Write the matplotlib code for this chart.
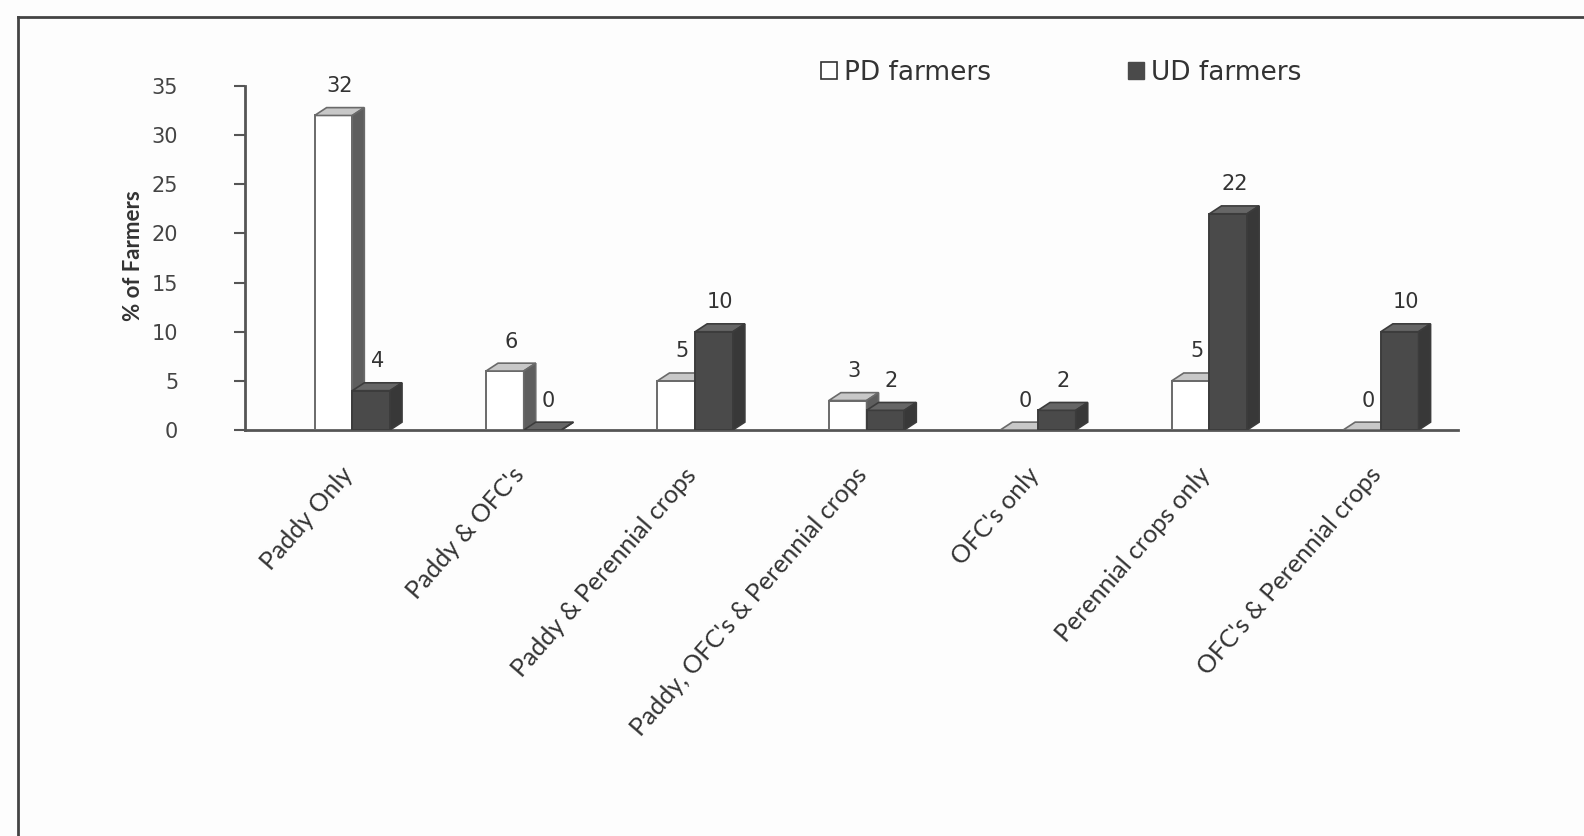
import matplotlib
matplotlib.use("Agg")
import matplotlib.pyplot as plt
from matplotlib.patches import Polygon, Patch
from matplotlib.lines import Line2D
from matplotlib.transforms import ScaledTranslation

categories = ["Paddy Only", "Paddy & OFC's", "Paddy & Perennial crops",
              "Paddy, OFC's & Perennial crops", "OFC's only",
              "Perennial crops only", "OFC's & Perennial crops"]
pd_farmers = [32, 6, 5, 3, 0, 5, 0]
ud_farmers = [4, 0, 10, 2, 2, 22, 10]
series_names = ["PD farmers", "UD farmers"]
yticks = [0, 5, 10, 15, 20, 25, 30, 35]

W, H = 1584, 836
fig = plt.figure(figsize=(W / 100, H / 100), dpi=100)
fig.patch.set_facecolor("#fdfdfd")

ax = fig.add_axes([245 / W, 1 - 430 / H, (1458 - 245) / W, (430 - 86) / H])
ax.set_facecolor("none")

w = 0.22
dx, dy = 0.07, 0.8

def bar3d(x0, h, front, top, side, edge):
    ax.bar(x0, h, width=w, align="edge", color=front, edgecolor=edge,
           linewidth=1.4, zorder=3)
    ax.add_patch(Polygon([(x0, h), (x0 + dx, h + dy), (x0 + w + dx, h + dy), (x0 + w, h)],
                         closed=True, facecolor=top, edgecolor=edge, linewidth=1.2, zorder=3))
    ax.add_patch(Polygon([(x0 + w, 0), (x0 + w, h), (x0 + w + dx, h + dy), (x0 + w + dx, dy)],
                         closed=True, facecolor=side, edgecolor=edge, linewidth=1.2, zorder=3))

for i, (p, u) in enumerate(zip(pd_farmers, ud_farmers)):
    bar3d(i - w, p, "#ffffff", "#c8c8c8", "#5e5e5e", "#6a6a6a")
    bar3d(i, u, "#4a4a4a", "#666666", "#383838", "#3c3c3c")

def label_y(v):
    return v + 3.0

for i, (p, u) in enumerate(zip(pd_farmers, ud_farmers)):
    ax.text(i - w / 2 + dx / 2, label_y(p), str(p), ha="center", va="center",
            fontsize=15, color="#333333", family="DejaVu Sans", zorder=5)
    ax.text(i + w / 2 + dx / 2, label_y(u), str(u), ha="center", va="center",
            fontsize=15, color="#333333", family="DejaVu Sans", zorder=5)

ax.set_xlim(-0.626, 6.45)
ax.set_ylim(0, 35)
ax.set_yticks(yticks)
ax.set_yticklabels([str(t) for t in yticks], family="DejaVu Sans", fontsize=15, color="#444444")
ax.tick_params(axis="y", direction="out", length=8, width=1.5, color="#555555", pad=40)
ax.set_xticks(range(len(categories)))
ax.set_xticklabels(categories, rotation=49, ha="right", rotation_mode="anchor",
                   family="Lato", fontsize=18, color="#333333")
ax.tick_params(axis="x", length=0, pad=24)
shift = ScaledTranslation(-0.12, 0, fig.dpi_scale_trans)
for lbl in ax.get_xticklabels():
    lbl.set_transform(lbl.get_transform() + shift)
for s in ["top", "right"]:
    ax.spines[s].set_visible(False)
for s in ["left", "bottom"]:
    ax.spines[s].set_color("#555555")
    ax.spines[s].set_linewidth(2)

fig.text(134 / W, 1 - 256 / H, "% of Farmers", rotation=90, ha="center", va="center",
         family="Lato", fontweight="bold", fontsize=16, color="#333333")

handles = [Patch(facecolor="#ffffff", edgecolor="#333333", linewidth=1.2),
           Patch(facecolor="#4a4a4a", edgecolor="#4a4a4a")]
fig.legend(handles, series_names, loc="center left",
           bbox_to_anchor=(803 / W, 1 - 73 / H), ncol=2, frameon=False,
           handlelength=0.6, handleheight=0.6, handletextpad=0.25, columnspacing=5.2,
           prop={"family": "DejaVu Sans", "size": 19}, borderpad=0.2)
for t in fig.legends[0].get_texts():
    t.set_color("#333333")

fig.add_artist(Line2D([18 / W, 1.0], [1 - 17 / H, 1 - 17 / H], color="#444444", linewidth=2))
fig.add_artist(Line2D([18 / W, 18 / W], [0, 1 - 17 / H], color="#444444", linewidth=2))

fig.savefig("out.png", dpi=100, facecolor=fig.get_facecolor())
